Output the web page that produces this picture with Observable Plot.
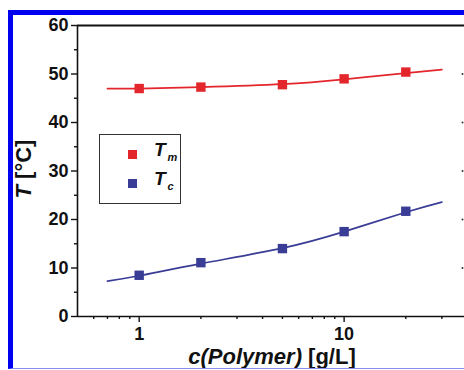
<!DOCTYPE html>
<html><head><meta charset="utf-8">
<script src="https://cdn.jsdelivr.net/npm/d3@7"></script>
<script src="https://cdn.jsdelivr.net/npm/@observablehq/plot@0.6"></script>
<style>
html,body{margin:0;padding:0;background:#fff;overflow:hidden;}
#wrap{position:relative;width:464px;height:370px;overflow:hidden;font-family:"Liberation Sans",Arial,sans-serif;background:#fff;}
#border{position:absolute;left:8px;top:10px;width:470px;height:353px;border-left:5px solid #0000f0;border-top:5px solid #0000f0;border-bottom:1px solid #8c8cf0;border-right:none;pointer-events:none;}
#chart{position:absolute;left:0;top:0;}
#legend{position:absolute;left:99px;top:134px;width:82px;height:70px;border:1.5px solid #333;background:#fff;box-sizing:border-box;font-weight:bold;color:#111;}
.item{position:absolute;left:0;height:22px;}
.sw{position:absolute;left:28px;width:9px;height:9px;}
.lab{position:absolute;left:54px;font-size:19px;font-style:italic;white-space:nowrap;}
.lab sub{font-size:11px;font-style:italic;vertical-align:-5px;margin-left:2px;}
</style></head>
<body>
<div id="wrap">
  <div id="chart"></div>
  <div id="border"></div>
  <div id="legend"></div>
</div>
<script>
// Data
const conc = [1, 2, 5, 10, 20];
const tm = [47.0, 47.3, 47.8, 49.0, 50.4];
const tc = [8.5, 11.1, 14.0, 17.5, 21.7];
// Fitted curves
const fitConc = [0.7, 1, 2, 5, 10, 20, 30];
const fitTm = [47.0, 47.0, 47.3, 47.9, 48.9, 50.2, 50.9];
const fitTc = [7.3, 8.4, 10.9, 14.1, 17.5, 21.5, 23.6];
// Ticks
const xTicks = [1, 10];
const xMinor = [0.6, 0.7, 0.8, 0.9, 2, 3, 4, 5, 6, 7, 8, 9, 20, 30];
const yTicks = [0, 10, 20, 30, 40, 50, 60];
const yMinor = [5, 15, 25, 35, 45, 55];
const rightTicks = [10, 20, 30, 40, 50];
const seriesNames = ["m", "c"];
const colors = ["#e3262c", "#3a3d96"];

const pts = [
  ...conc.map((c, i) => ({c, t: tm[i], s: "m"})),
  ...conc.map((c, i) => ({c, t: tc[i], s: "c"}))
];
const fits = [
  ...fitConc.map((c, i) => ({c, t: fitTm[i], s: "m"})),
  ...fitConc.map((c, i) => ({c, t: fitTc[i], s: "c"}))
];

const plot = Plot.plot({
  width: 464,
  height: 370,
  marginLeft: 77,
  marginRight: -3,
  marginTop: 25,
  marginBottom: 54,
  style: {fontFamily: "Liberation Sans, Arial, sans-serif", color: "#111", background: "transparent", overflow: "hidden"},
  x: {type: "log", domain: [0.5, 40]},
  y: {domain: [0, 60]},
  color: {domain: seriesNames, range: colors},
  marks: [
    Plot.ruleY([0], {stroke: "#111", strokeWidth: 1.6}),
    Plot.ruleY([60], {stroke: "#111", strokeWidth: 2.2}),
    Plot.ruleX([0.5], {stroke: "#111", strokeWidth: 1.6}),
    Plot.axisY({ticks: yTicks, tickSize: 6, tickPadding: 3, fontSize: 18, fontWeight: "bold", label: null, strokeWidth: 1.4}),
    Plot.axisY({ticks: yMinor, tickSize: 3, text: null, label: null, strokeWidth: 1.4}),
    Plot.dot(rightTicks, {y: d => d, frameAnchor: "right", dx: -5, r: 1, fill: "#333", stroke: null}),
    Plot.axisX({ticks: xTicks, tickFormat: d => String(d), tickSize: 6, tickPadding: 5, fontSize: 18, fontWeight: "bold", label: null, strokeWidth: 1.4}),
    Plot.axisX({ticks: xMinor, tickSize: 3, text: null, label: null, strokeWidth: 1.4}),
    Plot.line(fits, {x: "c", y: "t", z: "s", stroke: "s", strokeWidth: 1.7, curve: "natural"}),
    Plot.dot(pts, {x: "c", y: "t", fill: "s", symbol: "square", r: 5.3})
  ]
});
document.getElementById("chart").appendChild(plot);

const svg = d3.select(plot);
// X axis label
const xl = svg.append("text")
  .attr("x", 272).attr("y", 364)
  .attr("text-anchor", "middle")
  .attr("font-size", 22).attr("font-weight", "bold").attr("fill", "#111");
xl.append("tspan").attr("font-style", "italic").text("c(Polymer)");
xl.append("tspan").text(" [g/L]");
// Y axis label
const yl = svg.append("text")
  .attr("transform", "translate(31,169) rotate(-90)")
  .attr("text-anchor", "middle")
  .attr("font-size", 22).attr("font-weight", "bold").attr("fill", "#111");
yl.append("tspan").attr("font-style", "italic").text("T");
yl.append("tspan").text(" [°C]");

// Legend
const legend = d3.select("#legend");
seriesNames.forEach((s, i) => {
  const it = legend.append("div").attr("class", "item").style("top", (9 + i * 29) + "px");
  it.append("div").attr("class", "sw").style("top", "6px").style("background", colors[i]);
  const lab = it.append("div").attr("class", "lab").style("top", "-5px");
  lab.append("span").text("T");
  lab.append("sub").text(s);
});
</script>
</body></html>
